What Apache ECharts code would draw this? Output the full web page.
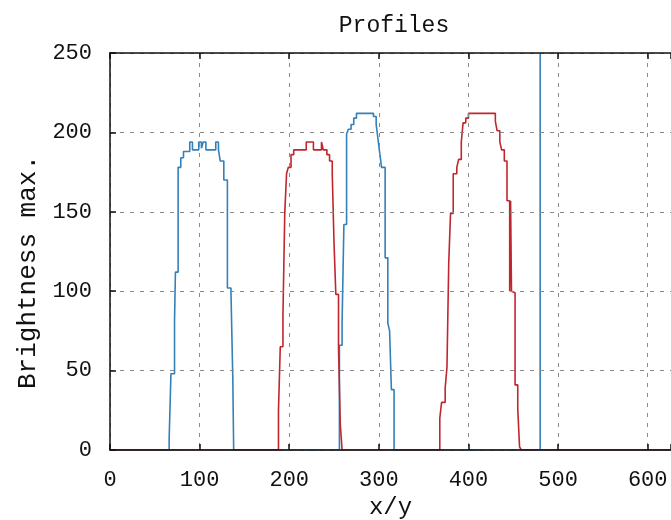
<!DOCTYPE html>
<html><head><meta charset="utf-8">
<script src="https://cdn.jsdelivr.net/npm/echarts@6/dist/echarts.min.js"></script>
<style>html,body{margin:0;padding:0;background:#fff}#c{width:671px;height:520px}</style>
</head><body><div id="c"></div>
<script>
const titleText = 'Profiles';
const xName = 'x/y';
const yName = 'Brightness max.';
const xTicks = [0, 100, 200, 300, 400, 500, 600];
const yTicks = [0, 50, 100, 150, 200, 250];

const blueX = [0, 66, 68, 72, 73, 76, 79, 82, 89, 92, 99, 102, 104, 107, 118, 121, 123, 127, 131, 135, 137, 138, 256, 259, 261, 264, 266, 269, 272, 275, 294, 297, 299, 301, 303, 307, 310, 312, 314, 317, 626];
const blueY = [0, 7, 48, 81, 112, 178, 184, 188, 194, 189, 194, 190, 194, 189, 194, 189, 182, 170, 102, 99, 46, 0, 66, 81, 142, 199, 202, 205, 209, 212, 210, 205, 196, 187, 178, 121, 80, 75, 38, 0, 0];

const redX = [0, 188, 190, 193, 195, 197, 199, 202, 205, 219, 227, 236, 238, 242, 245, 248, 250, 252, 255, 257, 259, 368, 370, 374, 376, 378, 380, 383, 387, 389, 392, 394, 397, 400, 430, 432, 435, 437, 440, 443, 446, 447, 448, 449, 452, 455, 457, 459, 626];
const redY = [0, 25, 65, 85, 149, 174, 178, 186, 189, 194, 189, 194, 189, 186, 182, 174, 130, 98, 64, 16, 0, 20, 30, 39, 52, 118, 149, 174, 178, 183, 194, 206, 209, 212, 207, 201, 194, 189, 182, 157, 100, 157, 100, 99, 41, 26, 2, 0, 0];

const markerX = [480, 480];
const markerY = [0, 250];

const FONT = 'Liberation Mono';
const zip = (a, b) => a.map((v, i) => [v, b[i]]);

const chart = echarts.init(document.getElementById('c'), null, {renderer: 'canvas'});
const gridLine = {show: true, lineStyle: {color: '#8a8a8a', width: 1, type: [4, 6]}};
const axisLine = {show: true, onZero: false, lineStyle: {color: '#111', width: 1.5}};
const axisTick = {show: true, inside: true, length: 6, lineStyle: {color: '#111', width: 1.5}};
chart.setOption({
  backgroundColor: '#ffffff',
  animation: false,
  title: {
    text: titleText, left: 389, top: 9, textAlign: 'center',
    textStyle: {fontFamily: FONT, fontSize: 23, fontWeight: 'normal', color: '#111'}
  },
  grid: {left: 110, top: 53, bottom: 70, right: 0, containLabel: false, outerBoundsMode: 'none'},
  xAxis: [{
    type: 'value', min: 0, max: 626, interval: 100, z: 3,
    name: xName, nameLocation: 'middle', nameGap: 44,
    nameTextStyle: {fontFamily: FONT, fontSize: 24, color: '#111'},
    axisLine, axisTick,
    axisLabel: {fontFamily: FONT, fontSize: 22, color: '#111', margin: 19,
      customValues: xTicks, hideOverlap: false},
    splitLine: gridLine
  }, {
    type: 'value', position: 'top', min: 0, max: 626, interval: 100, z: 3,
    axisLine, axisTick, axisLabel: {show: false}, splitLine: {show: false}
  }],
  yAxis: [{
    type: 'value', min: 0, max: 250, interval: 50, z: 3,
    axisLine, axisTick,
    axisLabel: {fontFamily: FONT, fontSize: 22, color: '#111', margin: 18,
      customValues: yTicks},
    splitLine: gridLine
  }],
  graphic: [{
    type: 'text', rotation: Math.PI / 2, x: 28, y: 272,
    style: {text: yName, fontFamily: FONT, fontSize: 26, fill: '#111',
      align: 'center', verticalAlign: 'middle'}
  }],
  series: [{
    type: 'line', step: 'end', showSymbol: false, symbol: 'none',
    data: zip(blueX, blueY), lineStyle: {color: '#3480b8', width: 1.6}, z: 2
  }, {
    type: 'line', step: 'end', showSymbol: false, symbol: 'none',
    data: zip(redX, redY), lineStyle: {color: '#c0262d', width: 1.6}, z: 2
  }, {
    type: 'line', showSymbol: false, symbol: 'none',
    data: zip(markerX, markerY), lineStyle: {color: '#3480b8', width: 1.6}, z: 2
  }]
});
</script>
</body></html>
